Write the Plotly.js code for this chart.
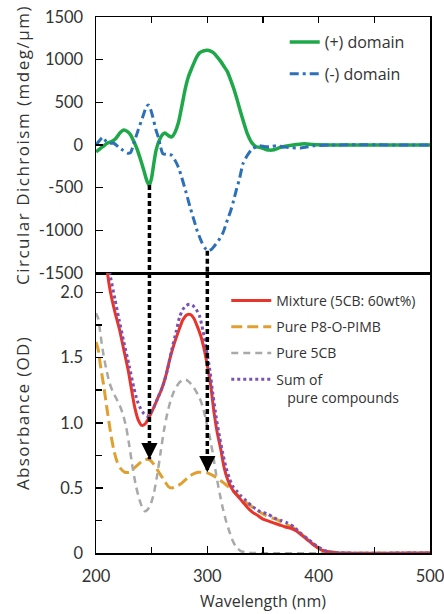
<!DOCTYPE html>
<html>
<head>
<meta charset="utf-8">
<script src="https://cdn.plot.ly/plotly-3.0.1.min.js"></script>
<style>
html,body{margin:0;padding:0;background:#fff;}
#chart{width:444px;height:614px;}
text.ytitle{letter-spacing:1.5px;}
text.y2title{letter-spacing:1.3px;}
</style>
</head>
<body>
<div id="chart"></div>
<script>
// ---------- Circular dichroism (top panel) ----------
const cdPlusWl = [200,203,206,210,214,218,222,225,228,231,234,237,240,243,246,248,250,252,254,257,260,262,265,268,271,274,277,280,283,286,290,293,297,300,303,306,309,312,315,318,321,324,327,330,333,336,340,344,348,352,356,360,365,370,380,387,395,410,500];
const cdPlus   = [-80,-50,-20,20,40,80,150,175,160,120,40,-50,-170,-300,-430,-470,-380,-210,-60,60,125,140,110,95,150,260,450,650,800,900,1020,1080,1105,1110,1100,1075,1030,980,920,860,760,650,520,380,250,130,25,-20,-30,-50,-60,-55,-30,-15,5,15,5,0,0];

const cdMinusWl = [200,203,206,209,212,216,220,224,228,231,234,238,242,245,247,249,251,254,256,258,260,264,268,271,274,277,281,285,288,291,295,298,301,304,306,310,314,318,321,323,326,329,332,336,340,344,347,352,356,362,370,384,395,410,500];
const cdMinus   = [0,50,90,45,20,20,-20,-60,-95,-90,20,180,330,440,470,420,330,170,90,-20,-100,-110,-120,-180,-260,-380,-560,-750,-880,-1010,-1140,-1210,-1240,-1220,-1190,-1120,-1030,-880,-770,-680,-530,-390,-220,-120,-50,-20,-10,-20,-20,-10,-25,-35,-10,0,0];

// ---------- Absorbance (bottom panel) ----------
const mixWl = [210,212,214,217,221,225,229,232,235,238,241,244,247,251,255,259,263,266,270,274,278,282,285,288,291,294,297,300,303,306,309,312,315,318,321,324,328,332,336,341,345,350,355,360,365,370,375,380,385,390,395,400,405,412,420,500];
const mixAbs = [2.17,2.05,1.96,1.85,1.72,1.56,1.40,1.25,1.11,1.02,0.98,0.99,1.03,1.10,1.18,1.26,1.37,1.48,1.60,1.70,1.79,1.83,1.83,1.80,1.74,1.67,1.57,1.44,1.29,1.08,0.92,0.80,0.66,0.57,0.51,0.47,0.43,0.39,0.35,0.31,0.29,0.26,0.245,0.23,0.215,0.20,0.19,0.17,0.135,0.10,0.065,0.035,0.015,0.005,0,0];

const p8Wl = [200,202,204,207,210,213,216,219,222,226,230,234,238,242,246,249,252,255,258,261,265,268,272,276,280,284,288,292,296,300,304,308,312,316,320,324,328,332,336,341,346,352,358,364,370,376,382,388,394,400,406,414,420,500];
const p8Abs = [1.62,1.56,1.44,1.28,1.10,0.93,0.79,0.70,0.65,0.62,0.62,0.65,0.68,0.71,0.72,0.71,0.68,0.64,0.60,0.56,0.51,0.50,0.51,0.53,0.56,0.59,0.61,0.62,0.62,0.615,0.60,0.58,0.555,0.53,0.50,0.47,0.44,0.41,0.38,0.35,0.32,0.29,0.27,0.25,0.22,0.20,0.165,0.12,0.075,0.04,0.015,0.005,0,0];

const cbWl = [200,202,204,206,209,212,215,218,221,224,227,230,233,236,239,242,244,246,249,252,255,258,261,264,267,270,274,278,281,284,287,290,293,296,299,302,305,308,311,314,317,320,323,326,330,335,340,500];
const cbAbs = [1.84,1.80,1.68,1.56,1.42,1.31,1.24,1.19,1.14,1.07,0.97,0.82,0.65,0.51,0.41,0.34,0.32,0.33,0.37,0.46,0.60,0.77,0.94,1.07,1.17,1.24,1.30,1.33,1.33,1.31,1.28,1.24,1.19,1.12,1.01,0.90,0.76,0.60,0.46,0.34,0.24,0.16,0.09,0.045,0.015,0.005,0,0];

const sumWl = [210,213,217,221,225,230,234,237,240,243,246,249,252,256,260,264,268,272,275,278,281,284,287,290,293,296,299,302,305,308,311,314,317,320,323,326,330,335,340,347,354,360,366,372,378,384,390,395,400,405,412,420,500];
const sumAbs = [2.25,2.12,1.95,1.78,1.62,1.43,1.27,1.17,1.11,1.07,1.05,1.08,1.12,1.20,1.28,1.40,1.56,1.70,1.81,1.87,1.90,1.91,1.90,1.87,1.82,1.71,1.57,1.42,1.22,1.04,0.89,0.76,0.65,0.57,0.51,0.48,0.44,0.40,0.36,0.32,0.30,0.27,0.25,0.23,0.20,0.15,0.11,0.075,0.045,0.02,0.005,0,0];

// ---------- arrows linking CD extrema to absorbance ----------
const arrowWl   = [248, 300];
const arrowFrom = [-470, -1240];   // CD value where dashed line starts
const arrowTo   = [0.72, 0.62];    // absorbance value at arrow tip

// ---------- axes ----------
const cdRange  = [-1500, 1500];
const absRange = [0, 2.15];
const wlRange  = [200, 500];
const cdTickVals  = [1500,1000,500,0,-500,-1000,-1500];
const cdTickText  = ['1500','1000','500','0','-500','-1000','-1500'];
const absTickVals = [0,0.5,1.0,1.5,2.0];
const absTickText = ['0','0.5','1.0','1.5','2.0'];
const wlTickVals  = [200,300,400,500];
const wlTickText  = ['200','300','400','500'];

const FONT = 'Open Sans, Noto Sans, sans-serif';
const TICKFONT = 'Lato, Open Sans, sans-serif';
const TXT = '#333333';

const traces = [
  {x: cdPlusWl, y: cdPlus, xaxis:'x', yaxis:'y', mode:'lines', name:'(+) domain',
   line:{color:'#1fa84a', width:3.5, shape:'spline', smoothing:0.6}, legend:'legend', legendgroup:'a'},
  {x: cdMinusWl, y: cdMinus, xaxis:'x', yaxis:'y', mode:'lines', name:'(-) domain',
   line:{color:'#2c70b8', width:3, dash:'9px,4px,3px,4px', shape:'spline', smoothing:0.6}, legend:'legend', legendgroup:'b'},

  {x: p8Wl, y: p8Abs, xaxis:'x2', yaxis:'y2', mode:'lines', name:'Pure P8-O-PIMB', legendrank:2,
   line:{color:'#e0a030', width:3, dash:'11px,5px', shape:'spline', smoothing:0.6}, legend:'legend2', legendgroup:'d'},
  {x: cbWl, y: cbAbs, xaxis:'x2', yaxis:'y2', mode:'lines', name:'Pure 5CB', legendrank:3,
   line:{color:'#a9a9a9', width:2.5, dash:'7px,5px', shape:'spline', smoothing:0.6}, legend:'legend2', legendgroup:'e'},
  {x: mixWl, y: mixAbs, xaxis:'x2', yaxis:'y2', mode:'lines', name:'Mixture (5CB: 60wt%)', legendrank:1,
   line:{color:'#e8342a', width:3, shape:'spline', smoothing:0.6}, legend:'legend2', legendgroup:'c'},
  {x: sumWl, y: sumAbs, xaxis:'x2', yaxis:'y2', mode:'lines', name:'Sum of<br>   pure compounds', legendrank:4,
   line:{color:'#7a52b3', width:3, dash:'dot', shape:'spline', smoothing:0.6}, legend:'legend2', legendgroup:'f'}
];

// dashed arrow shafts (one segment per panel)
arrowWl.forEach((w, i) => {
  traces.push({x:[w, w], y:[arrowFrom[i], cdRange[0]], xaxis:'x', yaxis:'y', mode:'lines',
    line:{color:'#000', width:3.5, dash:'5px,3px'}, showlegend:false, hoverinfo:'skip'});
  traces.push({x:[w, w], y:[absRange[1], arrowTo[i]], xaxis:'x2', yaxis:'y2', mode:'lines',
    line:{color:'#000', width:3.5, dash:'5px,3px'}, showlegend:false, hoverinfo:'skip'});
});

const annotations = arrowWl.map((w, i) => ({
  x: w, y: arrowTo[i], xref:'x2', yref:'y2', text:'', showarrow:true,
  ax:0, ay:-16, arrowhead:2, arrowsize:1.3, arrowwidth:2.5, arrowcolor:'#000', standoff:0
}));

const split = 280/536;

const axisCommon = {
  showline:true, linecolor:'#000', linewidth:1.5, mirror:true,
  ticks:'inside', tickcolor:'#000', tickwidth:1.5, ticklen:7,
  showgrid:false, zeroline:false, ticklabeloverflow:'allow',
  tickfont:{family:TICKFONT, size:16.5, color:TXT}
};

const layout = {
  width:444, height:614,
  margin:{l:96, r:14, t:17, b:61},
  paper_bgcolor:'#fff', plot_bgcolor:'#fff',
  font:{family:FONT, color:TXT},
  showlegend:true,
  xaxis: Object.assign({}, axisCommon, {
    domain:[0,1], anchor:'y', side:'top', range:wlRange, dtick:50, tick0:200,
    showticklabels:false, ticklen:6
  }),
  yaxis: Object.assign({}, axisCommon, {
    domain:[split,1], anchor:'x', range:cdRange,
    tickmode:'array', tickvals:cdTickVals, ticktext:cdTickText, ticklabelstandoff:8,
    title:{text:'Circular Dichroism (mdeg/\u00b5m)', font:{family:FONT, size:17, color:TXT}, standoff:5}
  }),
  xaxis2: Object.assign({}, axisCommon, {
    domain:[0,1], anchor:'y2', range:wlRange,
    tickmode:'array', tickvals:wlTickVals, ticktext:wlTickText, ticklabelstandoff:8,
    minor:{tickvals:[250,350,450], ticks:'inside', ticklen:6, tickcolor:'#000', tickwidth:1.5},
    title:{text:'Wavelength (nm)', font:{family:FONT, size:16, color:TXT}, standoff:10}
  }),
  yaxis2: Object.assign({}, axisCommon, {
    domain:[0,split], anchor:'x2', range:absRange,
    tickmode:'array', tickvals:absTickVals, ticktext:absTickText, ticklabelstandoff:8,
    minor:{tickvals:[0.25,0.75,1.25,1.75], ticks:'inside', ticklen:6, tickcolor:'#000', tickwidth:1.5},
    title:{text:'Absorbance (OD)', font:{family:FONT, size:17, color:TXT}, standoff:26}
  }),
  legend:{
    x:0.565, y:0.985, xanchor:'left', yanchor:'top', bgcolor:'rgba(0,0,0,0)',
    font:{family:FONT, size:16, color:TXT}, traceorder:'grouped', tracegroupgap:8, itemwidth:30
  },
  legend2:{
    x:0.39, y:0.50, xanchor:'left', yanchor:'top', bgcolor:'rgba(0,0,0,0)',
    font:{family:FONT, size:14, color:TXT}, traceorder:'grouped', tracegroupgap:5, itemwidth:40, valign:'top'
  },
  annotations: annotations
};

Plotly.newPlot('chart', traces, layout, {displayModeBar:false, staticPlot:true});
</script>
</body>
</html>
